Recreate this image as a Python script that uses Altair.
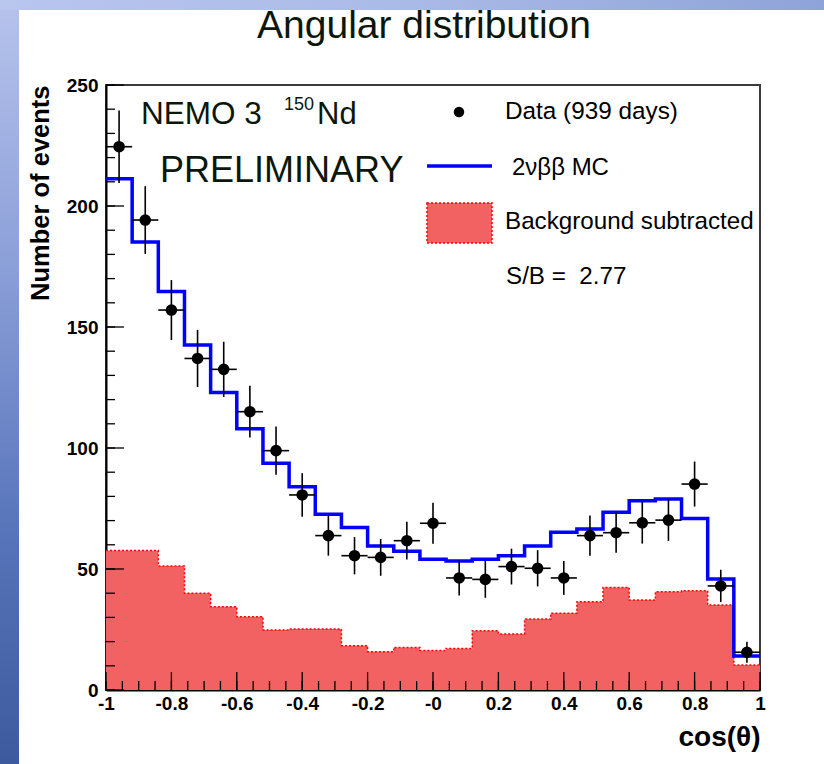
import altair as alt
import pandas as pd

# cos(theta) histogram: 25 bins of width 0.08 between -1 and 1
bin_width = 0.08
bin_lo = [round(-1 + bin_width * i, 2) for i in range(25)]

# Background-subtracted data (939 days), statistical errors
data_counts = [224.5, 194.2, 157.0, 137.0, 132.5, 115.0, 98.9, 80.6, 63.8, 55.5,
               54.8, 61.7, 68.9, 46.3, 45.7, 51.0, 50.3, 46.3, 63.8, 65.0,
               69.1, 70.2, 85.1, 43.0, 15.6]
data_errors = [15.0, 14.0, 12.4, 11.8, 11.4, 10.7, 10.0, 9.0, 8.3, 7.7,
               7.6, 7.8, 8.5, 7.2, 7.6, 7.4, 7.5, 7.0, 8.3, 8.3,
               8.6, 8.6, 9.3, 6.7, 4.3]

# 2nu-beta-beta Monte Carlo expectation
mc_counts = [211.3, 185.1, 164.7, 142.6, 122.9, 108.0, 93.7, 84.0, 72.6, 67.1,
             59.5, 57.3, 54.0, 53.3, 54.0, 55.5, 59.5, 65.2, 66.5, 73.4,
             78.2, 78.9, 70.9, 45.9, 14.0]

# Subtracted background
bkg_counts = [57.6, 57.6, 51.2, 40.0, 34.4, 30.3, 24.8, 25.2, 25.2, 18.3,
              15.8, 17.6, 16.3, 17.2, 24.5, 23.1, 29.3, 31.7, 36.5, 42.4,
              37.2, 40.6, 41.0, 35.1, 10.3]

x_major = [-1, -0.8, -0.6, -0.4, -0.2, 0, 0.2, 0.4, 0.6, 0.8, 1]
x_labels = ["-1", "-0.8", "-0.6", "-0.4", "-0.2", "-0", "0.2", "0.4", "0.6", "0.8", "1"]
x_minor = [round(-1 + 0.05 * i, 2) for i in range(41)]
y_major = [0, 50, 100, 150, 200, 250]
y_minor = list(range(0, 251, 10))

W, H = 654, 605
FONT = "Liberation Sans"
TXT = "#0c170c"
FILL = "#f26262"

bins = pd.DataFrame({
    "lo": bin_lo,
    "hi": [round(v + bin_width, 2) for v in bin_lo],
    "center": [round(v + bin_width / 2, 2) for v in bin_lo],
    "data": data_counts,
    "err_lo": [d - e for d, e in zip(data_counts, data_errors)],
    "err_hi": [d + e for d, e in zip(data_counts, data_errors)],
})

# step outlines need a closing point at the right edge
steps = pd.DataFrame({
    "edge": bin_lo + [1.0],
    "mc": mc_counts + [mc_counts[-1]],
    "bkg": bkg_counts + [bkg_counts[-1]],
})

xs = alt.Scale(domain=[-1, 1], nice=False, zero=False)
ys = alt.Scale(domain=[0, 250], nice=False, zero=True)

label_lookup = "[" + ",".join("'" + s + "'" for s in x_labels) + "]"
x_axis = alt.Axis(
    values=x_major, labelExpr=label_lookup + "[round((datum.value + 1) * 5)]",
    ticks=False, grid=False, domainColor="black", domainWidth=2,
    labelFont=FONT, labelFontWeight="bold", labelFontSize=19, labelColor="black",
    labelPadding=4, labelOverlap=False, labelFlush=False, labelBound=False,
    title="cos(θ)", titleFont=FONT, titleFontWeight="bold", titleFontSize=28,
    titleColor="black", titleAnchor="end", titleAlign="right", titlePadding=10,
)
y_axis = alt.Axis(
    values=y_major, format="d", ticks=False, grid=False,
    domainColor="black", domainWidth=2,
    labelFont=FONT, labelFontWeight="bold", labelFontSize=19, labelColor="black",
    labelPadding=8, labelOverlap=False, labelFlush=False, labelBound=False,
    title="Number of events", titleFont=FONT, titleFontWeight="bold",
    titleFontSize=25.5, titleColor="black", titleAnchor="end", titleAlign="right",
    titlePadding=13,
)


def X(field):
    return alt.X(field, scale=xs, axis=x_axis)


def Y(field):
    return alt.Y(field, scale=ys, axis=y_axis)


one = alt.Data(values=[{}])

# slide backdrop: gradient strip on the left and band on top
left_strip = alt.Chart(one).mark_rect(
    color=alt.Gradient(
        gradient="linear", x1=0, x2=0, y1=0, y2=1,
        stops=[alt.GradientStop(color="#b7c3ec", offset=0),
               alt.GradientStop(color="#8b9fd8", offset=0.35),
               alt.GradientStop(color="#5774ba", offset=0.7),
               alt.GradientStop(color="#3d5a9e", offset=1)])
).encode(x=alt.value(-106), x2=alt.value(-87), y=alt.value(-85), y2=alt.value(679))

top_band = alt.Chart(one).mark_rect(
    color=alt.Gradient(
        gradient="linear", x1=0, x2=1, y1=0, y2=0,
        stops=[alt.GradientStop(color="#b9c6ee", offset=0),
               alt.GradientStop(color="#aabae7", offset=0.5),
               alt.GradientStop(color="#8ea3d9", offset=1)])
).encode(x=alt.value(-106), x2=alt.value(718), y=alt.value(-85), y2=alt.value(-75))

# background histogram: filled area plus dotted outline
bkg_area = alt.Chart(steps).mark_area(
    interpolate="step-after", color=FILL, opacity=1
).encode(x=X("edge:Q"), y=Y("bkg:Q"))
bkg_line = alt.Chart(steps).mark_line(
    interpolate="step-after", color="#ff0000", strokeWidth=1.5, strokeDash=[2, 2]
).encode(x=X("edge:Q"), y=Y("bkg:Q"))

# inward tick marks drawn over the fill
x_ticks_minor = alt.Chart(pd.DataFrame({"v": x_minor})).mark_rule(
    color="black", strokeWidth=1.3
).encode(x=X("v:Q"), y=alt.value(H), y2=alt.value(H - 9))
x_ticks_major = alt.Chart(pd.DataFrame({"v": x_major})).mark_rule(
    color="black", strokeWidth=1.3
).encode(x=X("v:Q"), y=alt.value(H), y2=alt.value(H - 18))
y_ticks_minor = alt.Chart(pd.DataFrame({"v": y_minor})).mark_rule(
    color="black", strokeWidth=1.3
).encode(y=Y("v:Q"), x=alt.value(0), x2=alt.value(9))
y_ticks_major = alt.Chart(pd.DataFrame({"v": y_major})).mark_rule(
    color="black", strokeWidth=1.3
).encode(y=Y("v:Q"), x=alt.value(0), x2=alt.value(18))

# Monte Carlo step line
mc_line = alt.Chart(steps).mark_line(
    interpolate="step-after", color="#0000ff", strokeWidth=3.5
).encode(x=X("edge:Q"), y=Y("mc:Q"))

# data points with error bars
err_v = alt.Chart(bins).mark_rule(color="black", strokeWidth=1.6).encode(
    x=X("center:Q"), y=Y("err_lo:Q"), y2="err_hi:Q")
err_h = alt.Chart(bins).mark_rule(color="black", strokeWidth=1.6).encode(
    x=X("lo:Q"), x2="hi:Q", y=Y("data:Q"))
points = alt.Chart(bins).mark_circle(color="black", size=135, opacity=1).encode(
    x=X("center:Q"), y=Y("data:Q"))


def label(text, x, y, size, color="black", baseline="alphabetic", align="left", weight="normal"):
    return alt.Chart(one).mark_text(
        text=text, font=FONT, fontSize=size, color=color, baseline=baseline,
        align=align, fontWeight=weight
    ).encode(x=alt.value(x), y=alt.value(y))


texts = [
    label("Angular distribution", 318, -47, 39, TXT, align="center"),
    label("NEMO 3", 35, 39, 31.5, TXT),
    label("150", 178, 25, 18, TXT),
    label("Nd", 211, 39, 31, TXT),
    label("PRELIMINARY", 54, 97, 36, TXT),
    label("Data (939 days)", 399, 27, 24.3, baseline="middle"),
    label("2νββ MC", 406, 83, 24, baseline="middle"),
    label("Background subtracted", 399, 137, 24.2, baseline="middle"),
    label("S/B =\u00a0 2.77", 400, 192, 24.2, baseline="middle"),
]

legend_dot = alt.Chart(one).mark_circle(color="black", size=110, opacity=1).encode(
    x=alt.value(353), y=alt.value(27))
legend_line = alt.Chart(one).mark_rule(color="#0000ff", strokeWidth=3.5).encode(
    x=alt.value(321), x2=alt.value(386), y=alt.value(81))
legend_box = alt.Chart(one).mark_rect(
    fill=FILL, stroke="#ff0000", strokeWidth=1.5, strokeDash=[2, 2]
).encode(x=alt.value(321), x2=alt.value(386), y=alt.value(118), y2=alt.value(158))

chart = alt.layer(
    left_strip, top_band,
    bkg_area, bkg_line,
    x_ticks_minor, x_ticks_major, y_ticks_minor, y_ticks_major,
    mc_line, err_v, err_h, points,
    legend_dot, legend_line, legend_box, *texts,
).properties(
    width=W, height=H,
    autosize=alt.AutoSizeParams(type="none"),
    padding={"left": 106, "top": 85, "right": 64, "bottom": 74},
    background="white",
).configure_view(stroke="#3c3c3c", strokeWidth=2)

chart.save("out.html", embed_options={"renderer": "svg", "actions": False})
